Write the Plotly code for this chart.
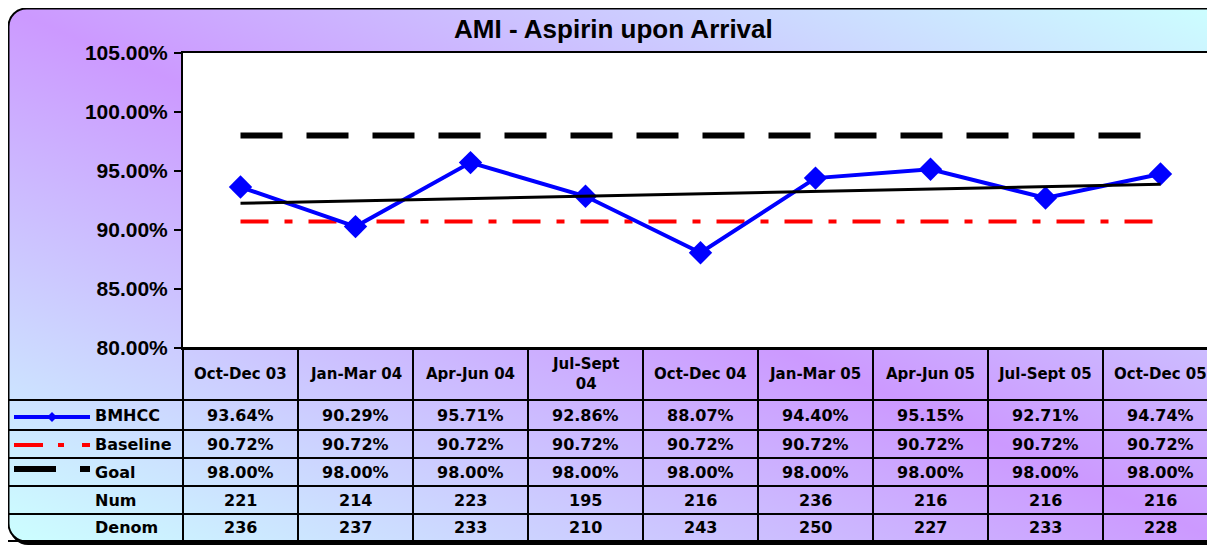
import base64
import numpy as np
import plotly.graph_objects as go

# data
quarters = ["Oct-Dec 03", "Jan-Mar 04", "Apr-Jun 04", "Jul-Sept 04", "Oct-Dec 04",
            "Jan-Mar 05", "Apr-Jun 05", "Jul-Sept 05", "Oct-Dec 05"]
header_text = ["Oct-Dec 03", "Jan-Mar 04", "Apr-Jun 04", "Jul-Sept<br>04", "Oct-Dec 04",
               "Jan-Mar 05", "Apr-Jun 05", "Jul-Sept 05", "Oct-Dec 05"]
bmhcc = [93.64, 90.29, 95.71, 92.86, 88.07, 94.40, 95.15, 92.71, 94.74]
baseline = [90.72, 90.72, 90.72, 90.72, 90.72, 90.72, 90.72, 90.72, 90.72]
goal = [98.00, 98.00, 98.00, 98.00, 98.00, 98.00, 98.00, 98.00, 98.00]
num = [221, 214, 223, 195, 216, 236, 216, 216, 216]
denom = [236, 237, 233, 210, 243, 250, 227, 233, 228]

# the page body has an 8px margin, so the figure is drawn 8px in from the window corner
OFF = 8
W, H = 1215 - OFF, 548 - OFF

def fx(px):  # window pixel -> paper (margins are zero)
    return (px - OFF) / W

def fy(py):
    return 1 - (py - OFF) / H

# linear trendline like excel
idx = np.arange(len(bmhcc))
slope, icpt = np.polyfit(idx, bmhcc, 1)
trend = list(slope * idx + icpt)

# background: rounded frame with diagonal gradient
svg = f'''<svg xmlns="http://www.w3.org/2000/svg" width="{W}" height="{H}" viewBox="0 0 {W} {H}">
<defs><linearGradient id="g" x1="1" y1="0" x2="0" y2="1">
<stop offset="0" stop-color="#CCFFFF"/><stop offset="0.5" stop-color="#CC99FF"/><stop offset="1" stop-color="#CCFFFF"/>
</linearGradient></defs>
<rect x="2" y="2" width="1215" height="535" rx="18" fill="#000"/>
<rect x="0.5" y="0.5" width="1215" height="533" rx="18" fill="url(#g)" stroke="#000" stroke-width="2"/>
</svg>'''
bg_src = "data:image/svg+xml;base64," + base64.b64encode(svg.encode()).decode()

fig = go.Figure()

fig.add_trace(go.Scatter(x=quarters, y=baseline, mode="lines", name="Baseline",
                         line=dict(color="#FF0000", width=4, dash="28px,16px,8px,16px")))
fig.add_trace(go.Scatter(x=quarters, y=goal, mode="lines", name="Goal",
                         line=dict(color="black", width=6, dash="42px,24px")))
fig.add_trace(go.Scatter(x=quarters, y=bmhcc, mode="lines+markers", name="BMHCC",
                         line=dict(color="#0000FF", width=4),
                         marker=dict(symbol="diamond", size=18, color="#0000FF")))
fig.add_trace(go.Scatter(x=quarters, y=trend, mode="lines", name="Trend",
                         line=dict(color="black", width=3)))

tfont = dict(family="DejaVu Sans", size=16, color="black", weight="bold")
hfont = dict(family="DejaVu Sans", size=15, color="black", weight="bold")

shapes = []
annos = []

# white plot area above the gradient
shapes.append(dict(type="rect", xref="paper", yref="paper", x0=fx(183), x1=1,
                   y0=fy(348), y1=fy(53), fillcolor="white", line_width=0, layer="below"))

# table grid
row_lines = [400, 430, 458, 486, 514, 541]
for r in row_lines:
    shapes.append(dict(type="line", xref="paper", yref="paper", x0=0, x1=1,
                       y0=fy(r), y1=fy(r), line=dict(color="black", width=2)))
shapes.append(dict(type="line", xref="paper", yref="paper", x0=fx(183), x1=1,
                   y0=fy(348), y1=fy(348), line=dict(color="black", width=2)))
shapes.append(dict(type="line", xref="paper", yref="paper", x0=fx(183), x1=fx(183),
                   y0=fy(348), y1=fy(541), line=dict(color="black", width=2)))
for i in range(1, len(quarters) + 1):
    shapes.append(dict(type="line", xref="x", yref="paper", x0=i - 0.5, x1=i - 0.5,
                       y0=fy(348), y1=fy(541), line=dict(color="black", width=2)))

# header + values
rows = [
    [f"{v:.2f}%" for v in bmhcc],
    [f"{v:.2f}%" for v in baseline],
    [f"{v:.2f}%" for v in goal],
    [str(v) for v in num],
    [str(v) for v in denom],
]
row_y = [415, 444, 472, 500, 527.5]
for q, h in zip(quarters, header_text):
    annos.append(dict(x=q, y=fy(374), xref="x", yref="paper", text=h, showarrow=False,
                      font=hfont, xanchor="center", yanchor="middle"))
for vals, ry in zip(rows, row_y):
    for q, t in zip(quarters, vals):
        annos.append(dict(x=q, y=fy(ry), xref="x", yref="paper", text=t, showarrow=False,
                          font=tfont, xanchor="center", yanchor="middle"))

labels = ["BMHCC", "Baseline", "Goal", "Num", "Denom"]
for lab, ry in zip(labels, row_y):
    annos.append(dict(x=fx(93), y=fy(ry), xref="paper", yref="paper", text=lab, showarrow=False,
                      font=tfont, xanchor="left", yanchor="middle"))

# legend keys in the row label cells
def seg(x0, x1, y, color, w):
    shapes.append(dict(type="line", xref="paper", yref="paper", x0=fx(x0), x1=fx(x1),
                       y0=fy(y), y1=fy(y), line=dict(color=color, width=w)))

seg(14, 90, 417, "#0000FF", 4)
shapes.append(dict(type="path", xref="paper", yref="paper",
                   path=f"M {fx(52)} {fy(412)} L {fx(57)} {fy(417)} L {fx(52)} {fy(422)} L {fx(47)} {fy(417)} Z",
                   fillcolor="#0000FF", line_width=0))
seg(14, 43, 445, "#FF0000", 4)
seg(58, 64, 445, "#FF0000", 4)
seg(82, 90, 445, "#FF0000", 4)
seg(14, 56, 469, "black", 6)
seg(80, 90, 469, "black", 6)

# title
annos.append(dict(x=fx(613), y=fy(29), xref="paper", yref="paper",
                  text="AMI - Aspirin upon Arrival", showarrow=False,
                  font=dict(family="Arial", size=26, color="black", weight="bold"),
                  xanchor="center", yanchor="middle"))

fig.update_layout(
    width=W, height=H,
    margin=dict(l=0, r=0, t=0, b=0),
    paper_bgcolor="white",
    plot_bgcolor="rgba(0,0,0,0)",
    showlegend=False,
    template="none",
    shapes=shapes,
    annotations=annos,
    images=[dict(source=bg_src, xref="paper", yref="paper", x=0, y=1, sizex=1, sizey=1,
                 xanchor="left", yanchor="top", sizing="stretch", layer="below")],
    xaxis=dict(domain=[fx(183), 1], type="category", range=[-0.5, 8.474],
               showticklabels=False, ticks="", showgrid=False, zeroline=False,
               showline=True, linecolor="black", linewidth=2, mirror=True, automargin=False),
    yaxis=dict(domain=[fy(348), fy(53)], range=[80, 105], dtick=5, tickformat=".2f",
               ticksuffix="%", ticks="outside", ticklen=7, tickwidth=2, tickcolor="black",
               showline=True, linecolor="black", linewidth=2, showgrid=False, zeroline=False,
               tickfont=dict(family="Arial", size=21, color="black", weight="bold"),
               ticklabelstandoff=2, automargin=False),
)

fig.write_html("out.html")
